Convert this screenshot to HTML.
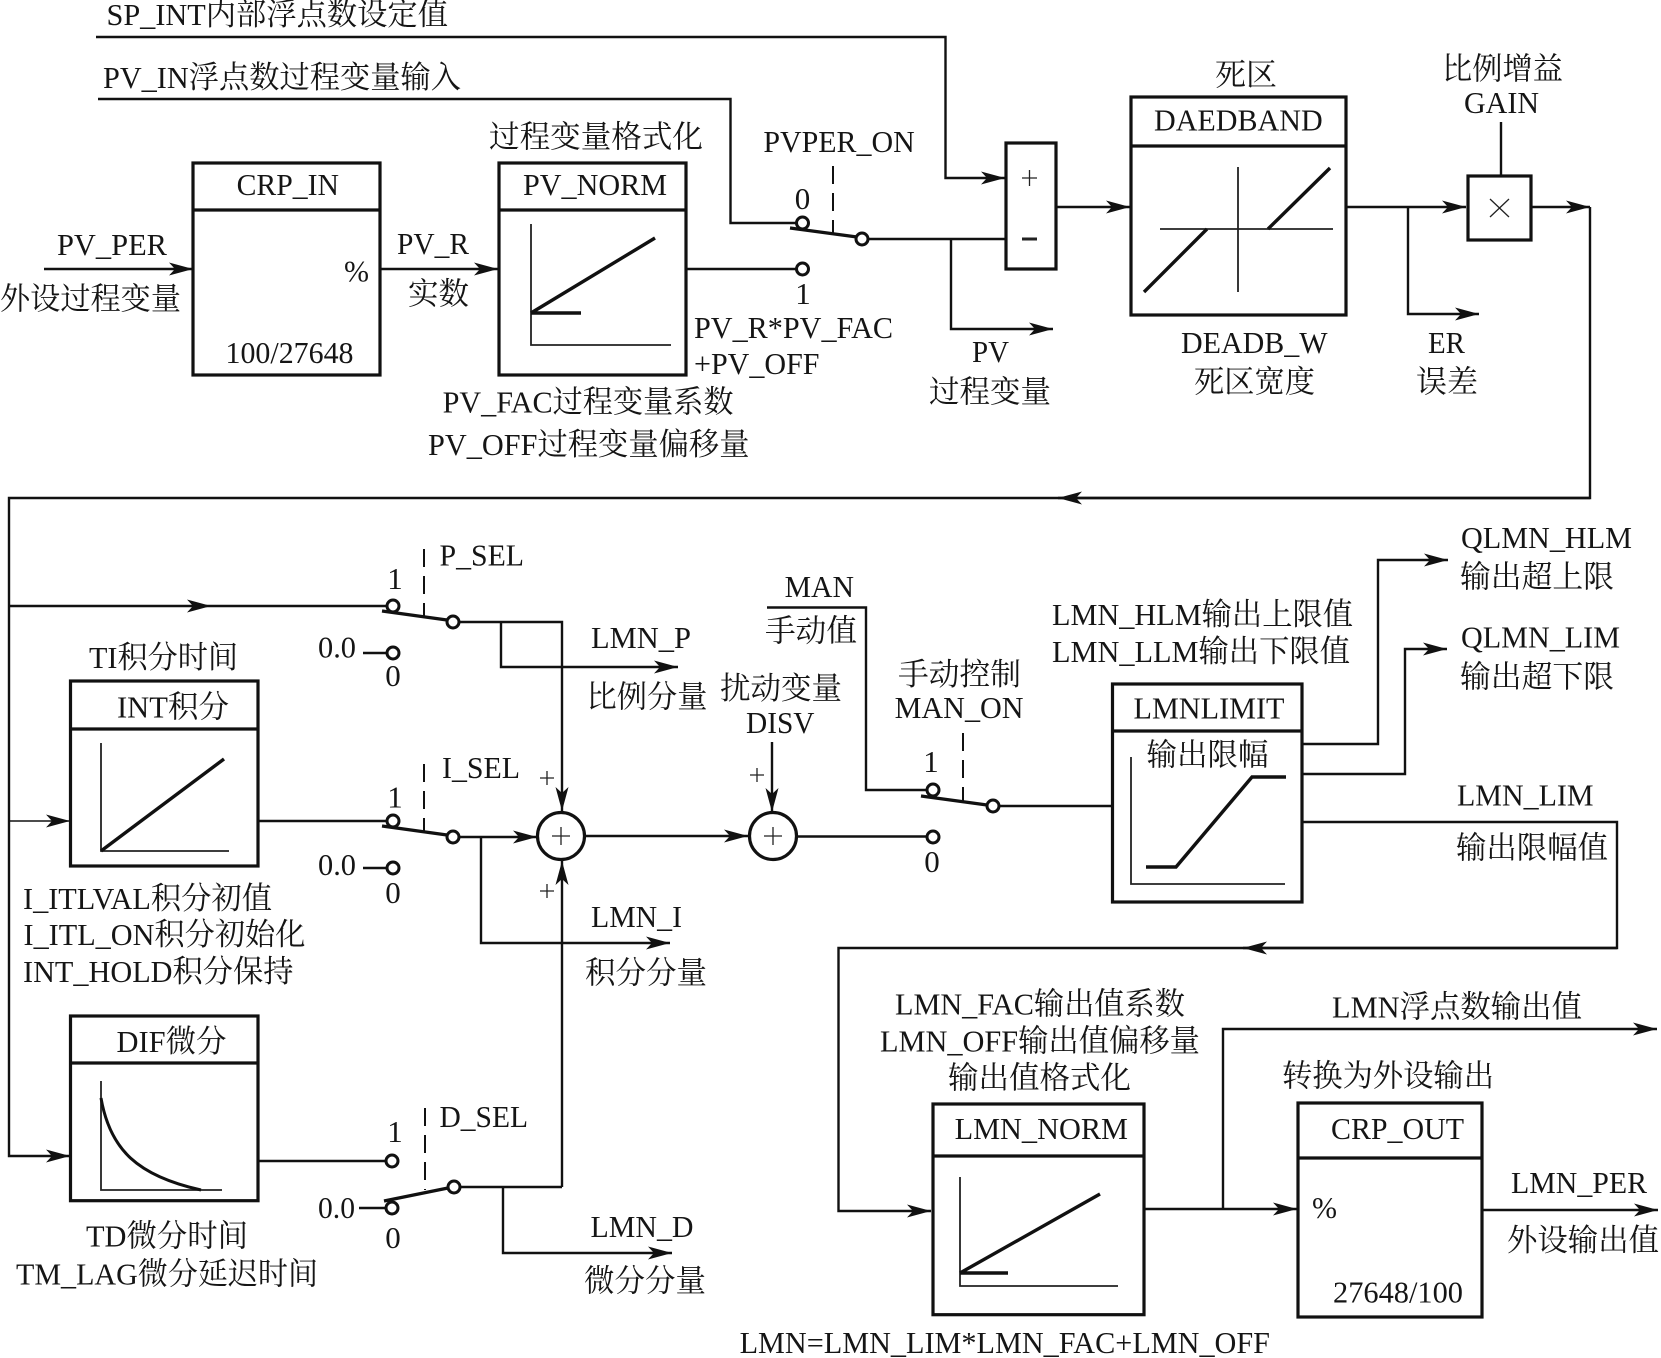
<!DOCTYPE html>
<html><head><meta charset="utf-8"><style>
html,body{margin:0;padding:0;background:#fff}
svg{display:block}
text{font-family:"Liberation Serif","Noto Serif CJK SC",serif;font-size:31px;fill:#151515}
.n{text-anchor:middle}
.b{fill:none;stroke:#111;stroke-width:3.2}
.l{fill:none;stroke:#111;stroke-width:2.4}
.t{fill:none;stroke:#222;stroke-width:1.8}
.k{fill:none;stroke:#111;stroke-width:3.4}
.c{fill:#fff;stroke:#111;stroke-width:3}
.d{fill:none;stroke:#111;stroke-width:2;stroke-dasharray:18 9}
</style></head><body>
<svg xmlns="http://www.w3.org/2000/svg" width="1661" height="1358" viewBox="0 0 1661 1358">
<defs><marker id="a" markerUnits="userSpaceOnUse" markerWidth="26" markerHeight="16" refX="24" refY="8" orient="auto"><path d="M24,8 L0,1.5 L6,8 L0,14.5 Z" fill="#111"/></marker></defs>
<rect width="1661" height="1358" fill="#fff"/>

<!-- boxes -->
<g class="b">
<rect x="193" y="163" width="187" height="212"/><path d="M193,210H380"/>
<rect x="499" y="163" width="187" height="212"/><path d="M499,210H686"/>
<rect x="1006" y="143" width="50" height="126"/>
<rect x="1131" y="97" width="215" height="218"/><path d="M1131,146H1346"/>
<rect x="1468" y="176" width="63" height="64"/>
<rect x="70.500" y="681" width="187.500" height="185"/><path d="M70,729H258"/>
<rect x="70.500" y="1016" width="187.500" height="184.700"/><path d="M70,1063H258"/>
<rect x="1112.500" y="684" width="189.500" height="218"/><path d="M1112,731H1302"/>
<rect x="933" y="1104" width="211" height="210.700"/><path d="M933,1156H1144"/>
<rect x="1298" y="1103" width="184" height="214"/><path d="M1298,1158H1482"/>
<circle cx="561" cy="836" r="23.500"/>
<circle cx="773" cy="836" r="23.500"/>
</g>

<!-- graphs -->
<path class="t" d="M531,224V345H671"/>
<path class="k" d="M531,313L655,238M531,313H581"/>
<path class="t" d="M1238,167V292M1160,229H1333"/>
<path class="k" d="M1144,292L1207,229M1268,229L1330,168"/>
<path class="t" d="M101,743V851H229"/>
<path class="k" d="M101,851L224,759"/>
<path class="t" d="M101,1081V1190H222"/>
<path class="k" d="M101,1098C110,1150 138,1176 201,1190" style="stroke-width:3"/>
<path class="t" d="M1131,757V884H1285"/>
<path class="k" d="M1146,867H1176L1252,777H1286"/>
<path class="t" d="M960,1177V1286H1118"/>
<path class="k" d="M960,1273L1100,1194M960,1273H1008"/>

<!-- lines -->
<g class="l">
<path d="M96,37H945.500V178H1005" marker-end="url(#a)"/>
<path d="M98,99H730.500V223H797"/>
<path d="M44,269H193" marker-end="url(#a)"/>
<path d="M380,269H498" marker-end="url(#a)"/>
<path d="M686,269H797"/>
<path d="M868,239H1006"/>
<path d="M951,239V329H1053" marker-end="url(#a)"/>
<path d="M1056,207H1130" marker-end="url(#a)"/>
<path d="M1346,207H1466" marker-end="url(#a)"/>
<path d="M1408,207V314H1479" marker-end="url(#a)"/>
<path d="M1501,122V176"/>
<path d="M1531,207H1590" marker-end="url(#a)"/>
<path d="M1590,207V498H9V1156H70" marker-end="url(#a)"/>
<path d="M1590,498H1058" marker-end="url(#a)"/>
<path d="M9,606H211" marker-end="url(#a)"/>
<path d="M211,606H388"/>
<path d="M9,821H70" marker-end="url(#a)" style="stroke-width:1.6"/>
<path d="M258,821H388"/>
<path d="M459,622H562V811" marker-end="url(#a)"/>
<path d="M501,622V667H678" marker-end="url(#a)"/>
<path d="M363,653H388"/>
<path d="M363,868H388"/>
<path d="M459,837H537" marker-end="url(#a)"/>
<path d="M481,837V943H670" marker-end="url(#a)"/>
<path d="M585,836H748" marker-end="url(#a)"/>
<path d="M772,742V812" marker-end="url(#a)"/>
<path d="M562,1187V861" marker-end="url(#a)"/>
<path d="M797,836.500H927"/>
<path d="M767,607.500H866V790H927"/>
<path d="M999,806H1112"/>
<path d="M1302,744H1378V560H1448" marker-end="url(#a)"/>
<path d="M1302,774H1405V649H1447" marker-end="url(#a)"/>
<path d="M1302,822H1617V948H838.500V1211H931" marker-end="url(#a)"/>
<path d="M1617,948H1243" marker-end="url(#a)"/>
<path d="M1144,1209H1297" marker-end="url(#a)"/>
<path d="M1223,1209V1029H1657" marker-end="url(#a)"/>
<path d="M1482,1210H1658" marker-end="url(#a)"/>
<path d="M258,1161H386"/>
<path d="M460,1187H562"/>
<path d="M503,1187V1253H672" marker-end="url(#a)"/>
<path d="M359,1208H386"/>
</g>

<!-- switches -->
<g>
<path class="k" d="M790,228L857,237"/>
<path class="k" d="M382,611L447,620"/>
<path class="k" d="M382,826L447,835"/>
<path class="k" d="M384,1201L448,1188"/>
<path class="k" d="M921,796L987,805"/>
<path class="d" d="M833,166V235"/>
<path class="d" d="M424,549V618"/>
<path class="d" d="M424,764V833"/>
<path class="d" d="M425,1108V1190"/>
<path class="d" d="M963,733V803"/>
<circle class="c" cx="802.500" cy="223" r="6"/>
<circle class="c" cx="802.500" cy="269" r="6"/>
<circle class="c" cx="862" cy="239" r="6"/>
<circle class="c" cx="393" cy="606" r="6"/>
<circle class="c" cx="393" cy="653" r="6"/>
<circle class="c" cx="453" cy="622" r="6"/>
<circle class="c" cx="393" cy="821" r="6"/>
<circle class="c" cx="393" cy="868" r="6"/>
<circle class="c" cx="453" cy="837" r="6"/>
<circle class="c" cx="392" cy="1161" r="6"/>
<circle class="c" cx="392" cy="1208" r="6"/>
<circle class="c" cx="454" cy="1187" r="6"/>
<circle class="c" cx="933" cy="790" r="6"/>
<circle class="c" cx="933" cy="837" r="6"/>
<circle class="c" cx="993" cy="806" r="6"/>
</g>

<!-- math signs -->
<g class="t" style="stroke-width:1.3">
<path d="M1022,178H1037M1029.500,170V186"/>
<path d="M1022,239H1037" style="stroke-width:3"/>
<path d="M1490,199L1509,217M1509,199L1490,217"/>
<path d="M552,836H570M561,827V845"/>
<path d="M764,836H782M773,827V845"/>
<path d="M540,778H554M547,771V785"/>
<path d="M540,891H554M547,884V898"/>
<path d="M750,775H764M757,768V782"/>
</g>

<!-- text -->
<text x="106.500" y="25" textLength="341.500" lengthAdjust="spacingAndGlyphs">SP_INT内部浮点数设定值</text>
<text x="103" y="88" textLength="358" lengthAdjust="spacingAndGlyphs">PV_IN浮点数过程变量输入</text>
<text x="489" y="147.500" textLength="214" lengthAdjust="spacingAndGlyphs">过程变量格式化</text>
<text x="236.600" y="195" textLength="102.400" lengthAdjust="spacingAndGlyphs">CRP_IN</text>
<text x="523" y="195" textLength="144" lengthAdjust="spacingAndGlyphs">PV_NORM</text>
<text x="57" y="255" textLength="110" lengthAdjust="spacingAndGlyphs">PV_PER</text>
<text x="0" y="309.500" textLength="181" lengthAdjust="spacingAndGlyphs">外设过程变量</text>
<text x="344" y="281.700" textLength="25" lengthAdjust="spacingAndGlyphs">%</text>
<text x="397" y="254" textLength="72" lengthAdjust="spacingAndGlyphs">PV_R</text>
<text x="408" y="304.500" textLength="61" lengthAdjust="spacingAndGlyphs">实数</text>
<text x="225.500" y="363" textLength="128" lengthAdjust="spacingAndGlyphs">100/27648</text>
<text class="n" x="802.500" y="209">0</text>
<text class="n" x="803" y="304">1</text>
<text x="694" y="338" textLength="199" lengthAdjust="spacingAndGlyphs">PV_R*PV_FAC</text>
<text x="694" y="374" textLength="125.500" lengthAdjust="spacingAndGlyphs">+PV_OFF</text>
<text x="442.600" y="412.500" textLength="291" lengthAdjust="spacingAndGlyphs">PV_FAC过程变量系数</text>
<text x="428" y="455" textLength="321.500" lengthAdjust="spacingAndGlyphs">PV_OFF过程变量偏移量</text>
<text x="763.400" y="152" textLength="151.300" lengthAdjust="spacingAndGlyphs">PVPER_ON</text>
<text x="1215" y="85.500" textLength="62" lengthAdjust="spacingAndGlyphs">死区</text>
<text x="1442" y="79.500" textLength="121" lengthAdjust="spacingAndGlyphs">比例增益</text>
<text x="1464" y="113" textLength="75" lengthAdjust="spacingAndGlyphs">GAIN</text>
<text x="1154" y="130.700" textLength="168.700" lengthAdjust="spacingAndGlyphs">DAEDBAND</text>
<text x="1181" y="353" textLength="146.600" lengthAdjust="spacingAndGlyphs">DEADB_W</text>
<text x="1194" y="392.500" textLength="121" lengthAdjust="spacingAndGlyphs">死区宽度</text>
<text x="1428" y="353" textLength="37" lengthAdjust="spacingAndGlyphs">ER</text>
<text x="1416" y="392.500" textLength="62" lengthAdjust="spacingAndGlyphs">误差</text>
<text x="972" y="362" textLength="37" lengthAdjust="spacingAndGlyphs">PV</text>
<text x="929" y="402.500" textLength="122" lengthAdjust="spacingAndGlyphs">过程变量</text>

<text x="439.500" y="565.700" textLength="84.500" lengthAdjust="spacingAndGlyphs">P_SEL</text>
<text class="n" x="395" y="589">1</text>
<text x="318" y="657.700" textLength="38" lengthAdjust="spacingAndGlyphs">0.0</text>
<text class="n" x="393" y="686">0</text>
<text x="89" y="668" textLength="149" lengthAdjust="spacingAndGlyphs">TI积分时间</text>
<text x="117" y="717.500" textLength="112" lengthAdjust="spacingAndGlyphs">INT积分</text>
<text x="591" y="648" textLength="100" lengthAdjust="spacingAndGlyphs">LMN_P</text>
<text x="586.500" y="707.500" textLength="121" lengthAdjust="spacingAndGlyphs">比例分量</text>
<text x="784.600" y="597" textLength="69.400" lengthAdjust="spacingAndGlyphs">MAN</text>
<text x="765" y="641.500" textLength="92" lengthAdjust="spacingAndGlyphs">手动值</text>
<text x="720" y="699" textLength="122" lengthAdjust="spacingAndGlyphs">扰动变量</text>
<text x="746" y="733" textLength="68.500" lengthAdjust="spacingAndGlyphs">DISV</text>
<text x="442" y="778" textLength="78" lengthAdjust="spacingAndGlyphs">I_SEL</text>
<text class="n" x="395" y="807.700">1</text>
<text x="318" y="875" textLength="38" lengthAdjust="spacingAndGlyphs">0.0</text>
<text class="n" x="393" y="903">0</text>
<text x="23" y="909" textLength="249" lengthAdjust="spacingAndGlyphs">I_ITLVAL积分初值</text>
<text x="591" y="927" textLength="91" lengthAdjust="spacingAndGlyphs">LMN_I</text>
<text x="23.500" y="945" textLength="282" lengthAdjust="spacingAndGlyphs">I_ITL_ON积分初始化</text>
<text x="23" y="982" textLength="270.500" lengthAdjust="spacingAndGlyphs">INT_HOLD积分保持</text>
<text x="585" y="983.500" textLength="122" lengthAdjust="spacingAndGlyphs">积分分量</text>
<text x="116.500" y="1052" textLength="110" lengthAdjust="spacingAndGlyphs">DIF微分</text>
<text x="439.500" y="1127" textLength="88.500" lengthAdjust="spacingAndGlyphs">D_SEL</text>
<text class="n" x="395" y="1142">1</text>
<text x="318" y="1218" textLength="37" lengthAdjust="spacingAndGlyphs">0.0</text>
<text class="n" x="393" y="1248">0</text>
<text x="86" y="1246.500" textLength="162" lengthAdjust="spacingAndGlyphs">TD微分时间</text>
<text x="16" y="1284.500" textLength="302" lengthAdjust="spacingAndGlyphs">TM_LAG微分延迟时间</text>
<text x="590.500" y="1237" textLength="103" lengthAdjust="spacingAndGlyphs">LMN_D</text>
<text x="584" y="1291.500" textLength="122" lengthAdjust="spacingAndGlyphs">微分分量</text>
<text x="739.600" y="1353" textLength="530.400" lengthAdjust="spacingAndGlyphs">LMN=LMN_LIM*LMN_FAC+LMN_OFF</text>

<text x="1461" y="548" textLength="171" lengthAdjust="spacingAndGlyphs">QLMN_HLM</text>
<text x="1460" y="587.500" textLength="154" lengthAdjust="spacingAndGlyphs">输出超上限</text>
<text x="1052" y="625" textLength="301" lengthAdjust="spacingAndGlyphs">LMN_HLM输出上限值</text>
<text x="1052" y="662" textLength="298" lengthAdjust="spacingAndGlyphs">LMN_LLM输出下限值</text>
<text x="1461" y="647.700" textLength="159" lengthAdjust="spacingAndGlyphs">QLMN_LIM</text>
<text x="1460" y="687.500" textLength="154" lengthAdjust="spacingAndGlyphs">输出超下限</text>
<text x="898" y="685" textLength="123" lengthAdjust="spacingAndGlyphs">手动控制</text>
<text x="894.600" y="718" textLength="129" lengthAdjust="spacingAndGlyphs">MAN_ON</text>
<text x="1133.500" y="718.500" textLength="151" lengthAdjust="spacingAndGlyphs">LMNLIMIT</text>
<text x="1146.500" y="765.500" textLength="122" lengthAdjust="spacingAndGlyphs">输出限幅</text>
<text class="n" x="931" y="772">1</text>
<text class="n" x="932" y="872">0</text>
<text x="1457" y="805.700" textLength="136.500" lengthAdjust="spacingAndGlyphs">LMN_LIM</text>
<text x="1456" y="858.500" textLength="152" lengthAdjust="spacingAndGlyphs">输出限幅值</text>

<text x="895" y="1014.500" textLength="290" lengthAdjust="spacingAndGlyphs">LMN_FAC输出值系数</text>
<text x="880" y="1051.500" textLength="320" lengthAdjust="spacingAndGlyphs">LMN_OFF输出值偏移量</text>
<text x="948" y="1088.500" textLength="183" lengthAdjust="spacingAndGlyphs">输出值格式化</text>
<text x="1332" y="1017.500" textLength="250" lengthAdjust="spacingAndGlyphs">LMN浮点数输出值</text>
<text x="1282" y="1086.500" textLength="212" lengthAdjust="spacingAndGlyphs">转换为外设输出</text>
<text x="954.600" y="1139" textLength="173.400" lengthAdjust="spacingAndGlyphs">LMN_NORM</text>
<text x="1331" y="1139" textLength="133" lengthAdjust="spacingAndGlyphs">CRP_OUT</text>
<text x="1312" y="1218" textLength="25" lengthAdjust="spacingAndGlyphs">%</text>
<text x="1333" y="1302.700" textLength="130" lengthAdjust="spacingAndGlyphs">27648/100</text>
<text x="1511" y="1193" textLength="136" lengthAdjust="spacingAndGlyphs">LMN_PER</text>
<text x="1507" y="1251" textLength="152" lengthAdjust="spacingAndGlyphs">外设输出值</text>
</svg>
</body></html>
